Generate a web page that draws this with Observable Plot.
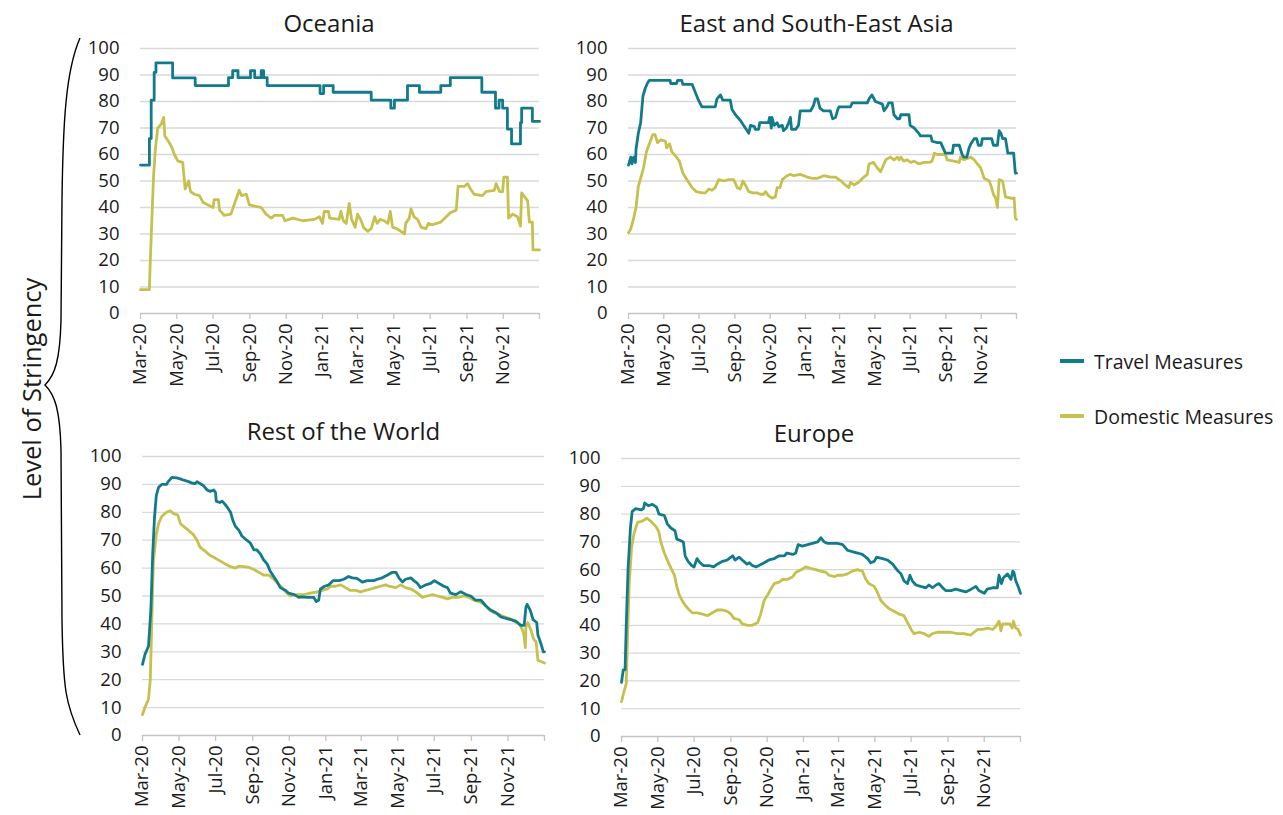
<!DOCTYPE html>
<html>
<head>
<meta charset="utf-8">
<script src="https://cdn.jsdelivr.net/npm/d3@7"></script>
<script src="https://cdn.jsdelivr.net/npm/@observablehq/plot@0.6"></script>
<style>
  html, body { margin: 0; padding: 0; background: #fff; }
  #chart { position: relative; width: 1283px; height: 815px; font-family: "Open Sans", sans-serif; color: #1a1a1a; }
  #chart svg.panel { position: absolute; overflow: visible; }
  .legend { position: absolute; left: 1060px; font-size: 19.5px; display: flex; align-items: center; }
  .legend span.sw { display: inline-block; width: 24px; height: 4px; margin-right: 10px; }
  .ylabel { position: absolute; left: 31px; top: 389px; transform: translate(-50%, -50%) rotate(-90deg); font-size: 25.5px; white-space: nowrap; }
</style>
</head>
<body>
<div id="chart">
  <svg id="brace" width="100" height="815" style="position:absolute;left:0;top:0">
    <path d="M80,38 C66,70 63,120 62,200 L61,320 C60,360 55,375 45,385 C55,395 60,410 61,450 L62,620 C63,690 66,705 80,735" fill="none" stroke="#000" stroke-width="1.4"/>
  </svg>
  <div class="ylabel">Level of Stringency</div>
</div>
<script>
// ---- data: [day offset from 1 Mar 2020, stringency value] ----
const seriesNames = ["Travel Measures", "Domestic Measures"];
const seriesColors = ["#117b8c", "#c6c04e"];
const panelTitles = ["Oceania", "East and South-East Asia", "Rest of the World", "Europe"];
const yTicks = [0, 10, 20, 30, 40, 50, 60, 70, 80, 90, 100];

const oceaniaTravel = [[0,56],[15,66],[18,80.5],[23,91],[26,94.6],[54,88.9],[92,86],[148,89],[155,91.6],[164,89],[185,91.6],[192,89],[203,91.6],[207,89],[213,86],[302,83],[308,86],[324,83.5],[388,80.5],[421,77.5],[427,80.5],[449,86],[469,83.5],[505,86],[521,89],[574,83.5],[597,77.5],[603,80.5],[609,77.5],[617,69.6],[624,64],[639,72],[641,77.5],[659,72.5],[671,72.5]];
const oceaniaDomestic = [[0,9],[15,9],[16,17],[19,35],[22,52],[25,62],[29,70],[35,71.5],[39,74],[41,67],[47,65],[52,63],[57,60],[63,57.5],[71,57],[75,47],[81,50],[84,46],[91,45],[99,44.5],[105,42],[113,41],[122,40],[124,43],[131,43],[133,39],[141,37],[152,37.5],[159,42],[166,46.5],[170,44.5],[178,45],[183,41],[192,40.5],[203,40],[211,37.5],[220,36],[225,37],[239,37],[243,35],[256,36],[273,35],[292,35.5],[301,36.5],[306,34],[309,38.5],[316,38.5],[318,36],[334,35.5],[337,38.5],[341,35],[346,34],[351,41.5],[355,35.5],[361,32.5],[365,37.5],[371,35],[375,32.5],[382,31],[388,32],[394,36.5],[398,34],[403,35.5],[410,35],[416,34],[420,38.5],[424,32.5],[431,32],[438,31],[444,30],[446,34],[452,36],[455,39.5],[460,36.5],[466,35.5],[472,32.5],[480,32],[484,34],[491,33.5],[505,34.5],[512,36],[521,38],[531,39],[534,48],[545,48],[550,49],[555,47],[561,45],[575,44.5],[581,46],[595,46.5],[598,49],[604,46],[609,46],[611,51.5],[617,51.5],[619,36],[626,37.5],[634,36.5],[639,33],[641,45.5],[646,44],[651,42.5],[654,34.5],[659,34.5],[660,24],[671,24]];

const eseaTravel = [[0,56],[4,59],[6,56.5],[9,59],[12,57],[13,62],[17,68],[21,72],[25,82],[29,85],[33,87],[36,88],[43,88],[72,88],[73,86.8],[83,86.8],[85,88],[92,88],[94,86.5],[110,86.5],[121,80.5],[127,78],[150,78],[153,81],[159,82.5],[163,80.5],[176,80.5],[179,77],[185,75],[193,73],[202,70],[208,68],[211,71],[218,70.5],[219,69.5],[225,69.5],[227,72],[242,72],[244,74],[247,70],[248,74],[252,71],[257,72],[260,70.5],[266,71],[268,69],[273,70],[277,72],[280,74],[282,69.5],[289,69.5],[294,71],[297,76.5],[315,76.5],[320,78.5],[323,81],[327,81],[331,77.5],[337,76.5],[349,76.5],[353,73.5],[358,74],[362,77],[364,78],[384,78],[387,79.5],[413,79.5],[416,81],[421,82.5],[427,80],[439,79],[442,76.5],[447,78],[450,79.5],[456,79.5],[459,75],[465,73.5],[469,73.5],[471,75],[485,75],[487,71],[494,70],[502,68],[505,67],[523,67],[525,65],[534,64.5],[540,64.5],[548,60.5],[560,60.5],[562,63.5],[572,63.5],[577,60],[580,59],[585,59],[589,62.5],[592,64],[598,66],[602,66],[605,63.5],[610,63.5],[612,66],[628,66],[631,63.5],[638,63.5],[641,69],[644,68],[647,66],[652,66],[656,60.5],[666,60.5],[669,53],[671,53]];
const eseaDomestic = [[0,30.5],[4,32],[9,36],[13,40],[17,48],[21,51],[26,55],[31,61],[36,64],[42,67.5],[46,67.5],[50,64.5],[56,65.5],[64,65],[66,62.5],[71,64],[75,61],[83,59],[88,57.5],[94,53],[101,50.5],[110,47.5],[117,46],[127,45.5],[133,45.5],[139,47],[144,46.5],[150,47.5],[156,50.5],[165,50],[173,50.5],[182,50.5],[188,47.5],[193,47],[198,50],[202,48.5],[208,46],[215,45.5],[222,45.5],[228,45],[234,45],[237,46],[242,44.5],[248,43.5],[254,44],[257,47.5],[262,47.5],[266,50.5],[274,52],[280,52.5],[286,52],[297,52.5],[309,51.5],[318,51],[326,51],[338,52],[349,51.5],[358,51.5],[364,50.5],[368,50],[372,49],[381,47.5],[384,49.5],[390,48.5],[398,49.5],[407,51.5],[413,52.5],[416,56.5],[424,57],[430,55],[436,53.5],[439,55],[445,58],[453,59],[459,58],[465,59],[468,58],[471,59],[476,57.5],[482,58],[488,57],[494,57.5],[502,56.5],[511,57],[520,57],[525,57.5],[529,60.5],[534,60],[548,60],[551,58],[563,57.5],[572,57],[574,59],[580,58],[592,59],[598,58],[603,56.5],[609,55],[615,51],[624,50],[628,47.5],[631,45],[635,43.5],[638,40],[641,50.5],[647,50],[652,44],[661,43.5],[667,43.5],[669,36],[671,35.5]];

const rowTravel = [[0,25.5],[4,29],[10,32],[14,45],[17,65],[20,78],[23,86],[27,89],[32,90],[40,90],[43,91],[49,92.5],[57,92.3],[63,92],[69,91.5],[77,91],[82,90.5],[88,90.3],[91,91],[96,90.3],[102,89.5],[108,88],[113,87.5],[119,88],[122,87],[123,84],[129,83.5],[133,84],[137,83],[141,82],[147,80],[151,77],[155,75],[161,73.5],[166,71.5],[174,70],[180,69],[186,66.5],[191,66.5],[197,65],[202,63],[208,61.5],[213,59],[219,57],[225,55],[230,53],[239,52],[244,51],[253,50.5],[261,49.5],[266,49.7],[275,49.5],[286,49.5],[290,48],[294,48.5],[297,52.5],[304,53.5],[311,54],[318,55.5],[328,55.5],[336,56],[344,57],[350,56.5],[358,56.3],[367,55],[375,55.5],[386,55.5],[392,56],[400,56.5],[409,57.5],[417,58.5],[423,58.5],[428,56.5],[434,55],[439,56],[448,56.5],[453,55.5],[459,54.5],[464,53],[473,54],[481,54.5],[487,55.5],[495,54.5],[503,53.5],[509,53],[514,51],[523,50.5],[531,51.5],[540,50.5],[548,50],[556,48.5],[565,48.5],[573,46.5],[581,45],[590,44],[598,42.5],[607,42],[615,41.5],[623,41],[631,39.5],[637,39.5],[640,46],[642,47],[647,45],[652,41.5],[658,40.5],[660,36],[665,33],[669,30],[671,30]];
const rowDomestic = [[0,7.5],[4,10],[10,13],[13,20],[16,45],[18,62],[23,72],[27,76],[32,78.5],[40,80],[46,80.5],[52,79.5],[59,79],[63,76],[71,74.5],[77,73.5],[85,72],[91,70],[96,67.5],[105,66],[113,64.5],[122,63.5],[130,62.5],[138,61.5],[147,60.5],[155,60],[161,60.7],[169,60.5],[177,60.3],[186,59.5],[194,58.5],[202,57.5],[211,57.5],[219,56],[226,54.5],[233,53],[241,51],[247,50],[253,50.5],[261,50.5],[269,50.5],[280,51],[292,51.5],[300,52],[308,52.5],[314,53.5],[322,53.5],[331,54],[339,53],[347,52],[356,52],[364,51.5],[372,52],[381,52.5],[389,53],[397,53.5],[406,54],[411,53.5],[423,53],[431,54],[439,53],[448,52.5],[456,51.5],[462,50.5],[467,49.5],[475,50],[484,50.5],[492,50],[501,49.5],[509,49],[517,49.5],[526,49.5],[537,50],[545,49.5],[553,48.5],[562,48],[570,47],[579,45],[587,44],[595,43.5],[604,42.5],[612,42],[620,41],[629,40],[634,38],[637,35.5],[639,31.5],[640,39],[643,40.5],[648,38],[653,34.5],[657,33.5],[660,27],[665,26.5],[671,26]];

const europeTravel = [[0,19.5],[3,24],[6,24],[8,40],[11,60],[15,75],[18,81],[24,82],[33,81.5],[37,82],[39,84],[45,83],[52,83.5],[59,82.5],[63,80],[72,79.5],[77,76.5],[83,75],[90,74],[93,71],[99,70.5],[104,70],[107,65],[112,63],[118,61.5],[122,61],[127,64],[132,62.5],[138,61.5],[147,61.5],[155,61],[161,62],[170,63],[178,63.5],[187,65],[191,63.5],[198,64.5],[203,63.5],[211,62],[215,62.5],[220,61.5],[226,61],[231,61.5],[240,62.5],[248,63.5],[257,64],[265,65],[274,65],[278,66],[288,65.5],[293,66],[297,69],[304,68.5],[313,69],[321,69.5],[330,70],[335,71.5],[341,70],[346,69.5],[355,69.5],[363,69.5],[372,69],[380,67],[388,66.5],[397,66],[405,65.5],[414,64],[419,62.5],[425,63],[429,64.5],[439,64],[447,63.5],[456,62],[463,60],[470,58.5],[475,56],[481,55],[485,58],[489,56],[495,54.5],[503,54],[512,53.5],[517,54.5],[523,53.5],[529,54.5],[534,55],[540,53.5],[545,52.5],[554,52.5],[562,53],[571,52.5],[579,52],[588,53],[596,54],[601,52.5],[610,51.5],[615,53],[624,53.5],[632,53.5],[635,58],[639,55],[642,57],[649,58.5],[655,56.5],[658,59.5],[660,59],[663,56],[667,54],[671,51.5]];
const europeDomestic = [[0,12.5],[4,16],[8,19],[10,35],[13,55],[17,68],[21,73],[27,77],[35,77.5],[43,78.5],[49,77.5],[58,75.5],[63,73.5],[66,70],[72,66],[80,62],[89,58],[93,54],[97,51],[103,48.5],[108,47],[114,45.5],[119,44.5],[128,44.5],[136,44],[145,43.5],[153,44.5],[161,45.5],[170,45.5],[178,45],[184,44],[189,42.5],[198,42],[203,40.5],[212,40],[220,40],[229,41],[234,44],[240,49],[246,51],[251,53],[257,55],[265,55.5],[271,56.5],[279,56.5],[288,57.5],[293,59],[302,60],[310,61],[318,60.5],[327,60],[335,59.5],[344,59],[349,58],[358,57.5],[363,58],[372,58],[380,58.5],[388,59.5],[397,60],[405,59.5],[411,56.5],[416,55],[425,54],[430,52],[436,49],[442,47.5],[450,46],[459,45],[467,44],[475,43.5],[481,41],[487,38.5],[492,37],[501,37.5],[509,37],[517,36],[523,37],[531,37.5],[543,37.5],[554,37.5],[565,37],[576,37],[587,36.5],[593,37.5],[599,38.5],[607,38.5],[616,39],[624,38.5],[629,39.5],[635,41.5],[638,38],[641,40.5],[649,40.5],[653,40.5],[657,39],[659,41.5],[663,39],[667,38.5],[671,36.5]];

// ---- helpers ----
const BASE = Date.UTC(2020, 2, 1);
const toRows = (pairs) => pairs.map(([d, v]) => ({date: new Date(BASE + d * 864e5), value: v}));
const xStart = new Date(Date.UTC(2020, 2, 1));
const xEnd = new Date(Date.UTC(2022, 0, 1));
const xTicks = d3.utcMonth.range(xStart, new Date(Date.UTC(2022, 0, 2)), 2);
const fmt = d3.utcFormat("%b-%y");

const panels = [
  {title: panelTitles[0], travel: oceaniaTravel, domestic: oceaniaDomestic, curve: "step-after", x0: 140, x1: 539, y0: 48, y1: 313, tdx: -11},
  {title: panelTitles[1], travel: eseaTravel, domestic: eseaDomestic, curve: "linear", x0: 628, x1: 1016, y0: 48, y1: 313, tdx: -6},
  {title: panelTitles[2], travel: rowTravel, domestic: rowDomestic, curve: "linear", x0: 142, x1: 544, y0: 456, y1: 735, tdx: 0},
  {title: panelTitles[3], travel: europeTravel, domestic: europeDomestic, curve: "linear", x0: 621, x1: 1020, y0: 458, y1: 736, tdx: -7}
];

const ML = 70, MR = 12, MT = 50, MB = 85;
const chart = document.getElementById("chart");

for (const p of panels) {
  const pw = p.x1 - p.x0, ph = p.y1 - p.y0;
  const svg = Plot.plot({
    width: pw + ML + MR,
    height: ph + MT + MB,
    marginLeft: ML, marginRight: MR, marginTop: MT, marginBottom: MB,
    style: {fontFamily: "Open Sans, sans-serif", fontSize: "17px", color: "#1a1a1a", background: "transparent"},
    x: {type: "utc", domain: [xStart, xEnd]},
    y: {domain: [0, 100]},
    marks: [
      Plot.gridY(yTicks.filter(t => t > 0), {stroke: "#d9d9d9", strokeOpacity: 1, strokeWidth: 1.3}),
      Plot.ruleY([0], {stroke: "#c4c4c4", strokeWidth: 1.3}),
      Plot.axisY({ticks: yTicks, tickSize: 0, tickPadding: 21, fontSize: 18.5, fill: "#1a1a1a", label: null}),
      Plot.axisX({ticks: xTicks, tickSize: 6, tickPadding: 4, tickRotate: -90, stroke: "#c4c4c4", strokeWidth: 1.3,
                  fill: "#1a1a1a", fontSize: 18.5, label: null,
                  tickFormat: d => (d >= xEnd ? "" : fmt(d))}),
      Plot.line(toRows(p.domestic), {x: "date", y: "value", stroke: seriesColors[1], strokeWidth: 2.8, curve: "linear"}),
      Plot.line(toRows(p.travel), {x: "date", y: "value", stroke: seriesColors[0], strokeWidth: 2.8, curve: p.curve}),
      Plot.text([p.title], {text: d => d, frameAnchor: "top", dy: -24, dx: p.tdx, fontSize: 24, fill: "#1a1a1a", lineAnchor: "middle"})
    ]
  });
  svg.classList.add("panel");
  svg.style.left = (p.x0 - ML) + "px";
  svg.style.top = (p.y0 - MT) + "px";
  chart.appendChild(svg);
}

// legend
const legendY = [361, 416];
seriesNames.forEach((name, i) => {
  const div = document.createElement("div");
  div.className = "legend";
  div.style.top = (legendY[i] - 14) + "px";
  div.style.height = "28px";
  div.innerHTML = `<span class="sw" style="background:${seriesColors[i]}"></span><span>${name}</span>`;
  chart.appendChild(div);
});
</script>
</body>
</html>
